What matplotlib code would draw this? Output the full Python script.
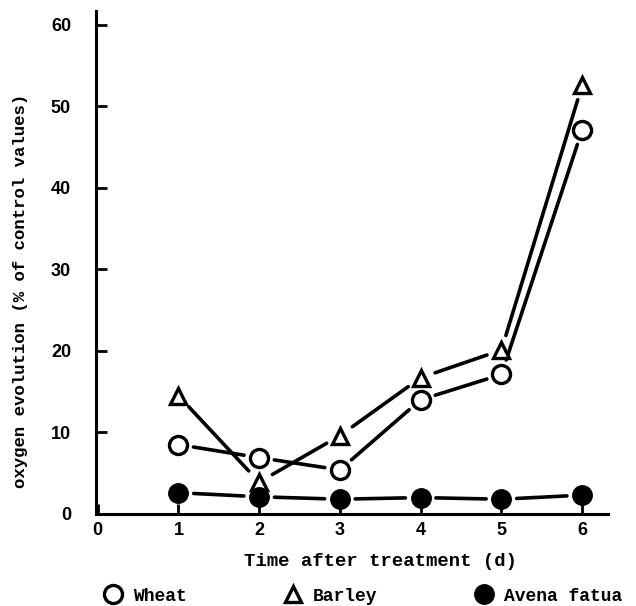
import matplotlib
matplotlib.use('Agg')
import matplotlib.pyplot as plt
from matplotlib.lines import Line2D

# Data
days = [1, 2, 3, 4, 5, 6]
wheat = [8.5, 6.9, 5.4, 14.0, 17.1, 47.1]
barley = [14.5, 3.9, 9.6, 16.7, 20.1, 52.6]
avena = [2.6, 2.1, 1.8, 2.0, 1.8, 2.3]

series_names = ['Wheat', 'Barley', 'Avena fatua']
x_ticks = [0, 1, 2, 3, 4, 5, 6]
y_ticks = [0, 10, 20, 30, 40, 50, 60]

mono = 'Liberation Mono'
sans = 'Liberation Sans'

fig = plt.figure(figsize=(6.36, 6.06), dpi=100)
ax = fig.add_axes([0.151, 0.152, 0.805, 0.830])

styles = [
    (wheat, dict(marker='o', ms=13, mfc='white', mec='black', mew=2.4)),
    (barley, dict(marker='^', ms=12, mfc='white', mec='black', mew=2.4)),
    (avena, dict(marker='o', ms=14, mfc='black', mec='black', mew=1)),
]

ax.set_xlim(-0.02, 6.32)
ax.set_ylim(0, 61.7)

# connecting segments, stopped short of the symbols (gap in points)
for vals, st in styles:
    for i in range(len(days) - 1):
        ax.annotate('', xy=(days[i + 1], vals[i + 1]), xytext=(days[i], vals[i]),
                    arrowprops=dict(arrowstyle='-', color='black', lw=2.6,
                                    shrinkA=11, shrinkB=11), zorder=1)
for vals, st in styles:
    ax.plot(days, vals, linestyle='none', zorder=3, **st)

ax.set_xticks(x_ticks)
ax.set_yticks(y_ticks)
ax.set_xticklabels([str(t) for t in x_ticks], fontfamily=sans, fontsize=13, fontweight='bold')
ax.set_yticklabels([str(t) for t in y_ticks], fontfamily=sans, fontsize=13, fontweight='bold')
ax.tick_params(axis='y', direction='in', length=8, width=2, pad=18)
ax.tick_params(axis='x', direction='in', length=7, width=2, pad=6)
for s in ['top', 'right']:
    ax.spines[s].set_visible(False)
for s in ['left', 'bottom']:
    ax.spines[s].set_linewidth(2.2)

fig.text(0.033, 0.52, 'oxygen evolution (% of control values)', rotation=90,
         ha='center', va='center', fontfamily=mono, fontsize=12.5, fontweight='bold')
fig.text(0.598, 0.073, 'Time after treatment (d)', ha='center', va='center',
         fontfamily=mono, fontsize=13.6, fontweight='bold')

handles = [Line2D([], [], linestyle='none', **st) for _, st in styles]
fig.legend(handles, series_names, loc='center left', bbox_to_anchor=(0.138, 0.016),
           ncol=3, frameon=False, handlelength=1.0, handletextpad=0.6,
           columnspacing=5.4, prop={'family': mono, 'size': 13, 'weight': 'bold'})

fig.savefig('out.png', dpi=100)
